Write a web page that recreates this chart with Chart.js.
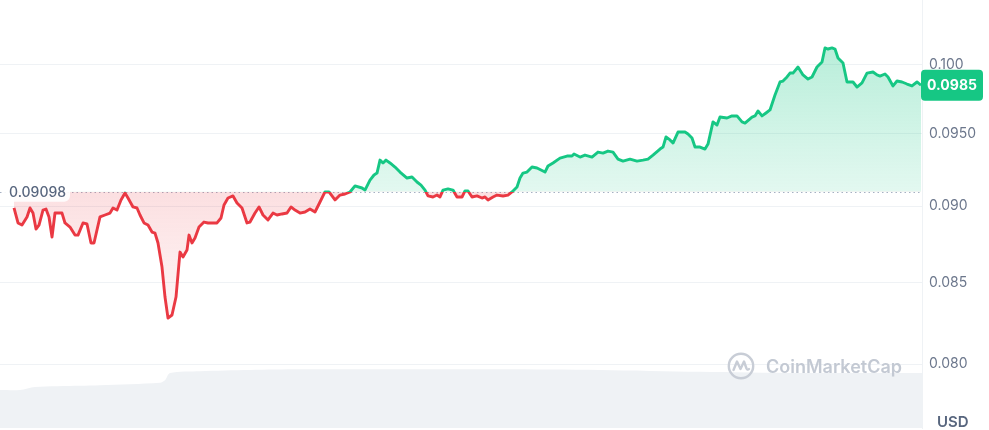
<!DOCTYPE html>
<html>
<head>
<meta charset="utf-8">
<script src="https://cdn.jsdelivr.net/npm/chart.js@4.4.1/dist/chart.umd.min.js"></script>
<style>
html, body { margin: 0; padding: 0; background: #fff; }
#wrap { position: relative; width: 989px; height: 430px; }
#usd { position: absolute; left: 937px; top: 412px; font: 600 15px Inter, sans-serif; color: #58667e; }
#mark { position: absolute; left: 727px; top: 352px; display: flex; align-items: center; gap: 11px;
        font: 600 18px Inter, sans-serif; color: #c3c9d3; }
</style>
</head>
<body>
<div id="wrap">
  <canvas id="priceChart"></canvas>
  <div id="mark">
    <svg width="28" height="28" viewBox="0 0 28 28">
      <circle cx="14" cy="14" r="12.2" fill="none" stroke="#c8cdd6" stroke-width="2.4"/>
      <path d="M6.5 18 L10 9.5 L13.5 17 L17 9.5 L19.5 16.5 Q20.5 18.5 22 17" fill="none" stroke="#c8cdd6" stroke-width="2.4" stroke-linejoin="round" stroke-linecap="round"/>
    </svg>
    <span>CoinMarketCap</span>
  </div>
  <div id="usd">USD</div>
</div>
<script>
// price series, x = time step across the 24h window
const times = [14, 18, 22, 27, 30, 33, 36, 39, 43, 46, 49, 52, 55, 62, 65, 70, 75, 78, 83, 87, 91, 94,
  100, 105, 110, 113, 117, 121, 125, 128, 133, 137, 140, 144, 148, 152, 155, 158, 162, 165, 168, 172,
  176, 179, 180, 183, 187, 189, 192, 195, 199, 204, 208, 217, 221, 224, 228, 233, 237, 242, 247, 250,
  255, 259, 263, 268, 273, 277, 282, 287, 291, 295, 300, 305, 310, 315, 320, 325, 329, 335, 340, 345,
  350, 355, 362, 365, 370, 374, 377, 380, 383, 386, 390, 395, 400, 407, 412, 417, 421, 425, 428, 433,
  437, 440, 443, 448, 453, 457, 462, 465, 468, 472, 477, 482, 485, 488, 493, 497, 503, 508, 512, 517,
  520, 523, 527, 532, 537, 545, 548, 553, 560, 567, 572, 574, 580, 585, 592, 598, 603, 608, 613, 618,
  623, 630, 637, 643, 648, 653, 660, 663, 666, 670, 673, 678, 685, 688, 692, 695, 700, 705, 708, 713,
  717, 720, 727, 732, 737, 742, 745, 752, 755, 758, 762, 766, 770, 775, 780, 783, 787, 790, 793, 798,
  803, 808, 812, 817, 822, 825, 828, 832, 835, 838, 843, 847, 853, 857, 862, 867, 873, 877, 880, 885,
  888, 893, 897, 902, 907, 912, 917, 921];
const prices = [0.08988, 0.08888, 0.08874, 0.08928, 0.08988, 0.08954, 0.08848, 0.08874, 0.08974, 0.08981, 0.08928, 0.08795, 0.08954, 0.08954, 0.08888, 0.08861, 0.08808, 0.08808, 0.08888, 0.08881, 0.08756, 0.08756,
  0.08928, 0.08941, 0.08954, 0.08988, 0.08974, 0.09042, 0.09089, 0.09055, 0.08995, 0.08988, 0.08941, 0.08888, 0.08874, 0.08828, 0.08821, 0.08756, 0.08600, 0.08410, 0.08279, 0.08298,
  0.08410, 0.08626, 0.08697, 0.08665, 0.08710, 0.08808, 0.08756, 0.08789, 0.08861, 0.08894, 0.08888, 0.08888, 0.08921, 0.09008, 0.09055, 0.09069, 0.09021, 0.08988, 0.08888, 0.08894,
  0.08954, 0.08995, 0.08941, 0.08908, 0.08954, 0.08941, 0.08948, 0.08954, 0.08995, 0.08974, 0.08954, 0.08961, 0.08981, 0.08961, 0.09028, 0.09096, 0.09096, 0.09042, 0.09075, 0.09082,
  0.09096, 0.09137, 0.09123, 0.09109, 0.09177, 0.09212, 0.09225, 0.09315, 0.09295, 0.09315, 0.09295, 0.09267, 0.09232, 0.09191, 0.09198, 0.09164, 0.09143, 0.09109, 0.09069, 0.09062,
  0.09075, 0.09062, 0.09109, 0.09117, 0.09109, 0.09062, 0.09062, 0.09103, 0.09103, 0.09062, 0.09069, 0.09055, 0.09062, 0.09042, 0.09062, 0.09075, 0.09069, 0.09075, 0.09096, 0.09130,
  0.09191, 0.09225, 0.09232, 0.09267, 0.09260, 0.09232, 0.09274, 0.09295, 0.09329, 0.09343, 0.09343, 0.09357, 0.09336, 0.09350, 0.09336, 0.09371, 0.09364, 0.09378, 0.09371, 0.09322,
  0.09308, 0.09322, 0.09308, 0.09315, 0.09322, 0.09350, 0.09392, 0.09406, 0.09477, 0.09456, 0.09434, 0.09512, 0.09512, 0.09498, 0.09470, 0.09406, 0.09406, 0.09392, 0.09427, 0.09584,
  0.09562, 0.09619, 0.09612, 0.09627, 0.09627, 0.09584, 0.09576, 0.09619, 0.09627, 0.09663, 0.09627, 0.09648, 0.09670, 0.09779, 0.09874, 0.09881, 0.09911, 0.09940, 0.09940, 0.09985,
  0.09926, 0.09896, 0.09911, 0.09985, 0.10022, 0.10128, 0.10120, 0.10128, 0.10120, 0.10052, 0.10015, 0.09874, 0.09874, 0.09837, 0.09867, 0.09940, 0.09948, 0.09926, 0.09918, 0.09933,
  0.09911, 0.09845, 0.09881, 0.09874, 0.09859, 0.09845, 0.09874, 0.0985];

// volume (background area), same time steps
const volTimes = [0, 20, 35, 80, 100, 160, 165, 170, 200, 250, 300, 400, 500, 600, 700, 800, 922];
const volumes = [62, 62, 67, 69, 70, 74, 78, 90, 93, 95, 96, 96, 96, 95, 92, 90, 90];

const tickValues = [0.08, 0.085, 0.09, 0.095, 0.1];
const tickLabels = ['0.080', '0.085', '0.090', '0.0950', '0.100'];
const openPrice = 0.09098;
const openLabel = '0.09098';
const lastPrice = 0.0985;
const lastLabel = '0.0985';

const GREEN = '#16c784';
const RED = '#ea3943';

Chart.defaults.font.family = 'Inter';

function splitStroke(ctx) {
  const chart = ctx.chart, a = chart.chartArea;
  if (!a || !chart.scales.y) return GREEN;
  const yb = chart.scales.y.getPixelForValue(openPrice);
  let f = (yb - a.top) / (a.bottom - a.top);
  f = Math.min(Math.max(f, 0), 1);
  const g = chart.ctx.createLinearGradient(0, a.top, 0, a.bottom);
  g.addColorStop(0, GREEN);
  g.addColorStop(f, GREEN);
  g.addColorStop(f, RED);
  g.addColorStop(1, RED);
  return g;
}

function splitFill(ctx) {
  const chart = ctx.chart, a = chart.chartArea;
  if (!a || !chart.scales.y) {
    return { target: { value: openPrice }, above: 'rgba(22,199,132,0.2)', below: 'rgba(234,57,67,0.1)' };
  }
  const yb = chart.scales.y.getPixelForValue(openPrice);
  const up = chart.ctx.createLinearGradient(0, a.top, 0, yb);
  up.addColorStop(0, 'rgba(22,199,132,0.36)');
  up.addColorStop(1, 'rgba(22,199,132,0.12)');
  const down = chart.ctx.createLinearGradient(0, yb, 0, a.bottom);
  down.addColorStop(0, 'rgba(234,57,67,0.16)');
  down.addColorStop(0.5, 'rgba(234,57,67,0.05)');
  down.addColorStop(1, 'rgba(234,57,67,0.0)');
  return { target: { value: openPrice }, above: up, below: down };
}

function roundRect(ctx, x, y, w, h, r) {
  ctx.beginPath();
  ctx.moveTo(x + r, y);
  ctx.arcTo(x + w, y, x + w, y + h, r);
  ctx.arcTo(x + w, y + h, x, y + h, r);
  ctx.arcTo(x, y + h, x, y, r);
  ctx.arcTo(x, y, x + w, y, r);
  ctx.closePath();
}

const overlay = {
  id: 'overlay',
  beforeDatasetsDraw(chart) {
    const { ctx, chartArea: a, scales: { y } } = chart;
    const yb = Math.round(y.getPixelForValue(openPrice)) + 0.5;
    ctx.save();
    ctx.strokeStyle = '#a6b0c3';
    ctx.lineWidth = 1;
    ctx.setLineDash([1.5, 3]);
    ctx.beginPath();
    ctx.moveTo(a.left, yb);
    ctx.lineTo(a.right, yb);
    ctx.stroke();
    ctx.restore();
  },
  afterDatasetsDraw(chart) {
    const { ctx, chartArea: a, scales: { y } } = chart;
    const yb = y.getPixelForValue(openPrice);
    ctx.save();
    ctx.fillStyle = 'rgba(255,255,255,0.92)';
    roundRect(ctx, a.left + 4, yb - 10, 66, 20, 6);
    ctx.fill();
    ctx.fillStyle = '#58667e';
    ctx.font = '500 14px Inter';
    ctx.textBaseline = 'middle';
    ctx.fillText(openLabel, a.left + 9, yb + 1);
    ctx.restore();
  },
  afterDraw(chart) {
    const { ctx, chartArea: a, scales: { y } } = chart;
    const yp = y.getPixelForValue(lastPrice);
    ctx.save();
    ctx.fillStyle = GREEN;
    roundRect(ctx, a.right - 1, yp - 15.5, 62, 31, 4);
    ctx.fill();
    ctx.fillStyle = '#fff';
    ctx.font = '700 14px Inter';
    ctx.textAlign = 'center';
    ctx.textBaseline = 'middle';
    ctx.fillText(lastLabel, a.right + 30, yp + 1);
    ctx.restore();
  }
};

new Chart(document.getElementById('priceChart'), {
  type: 'line',
  data: {
    datasets: [{
      label: 'Price',
      data: times.map((t, i) => ({ x: t, y: prices[i] })),
      yAxisID: 'y',
      borderColor: splitStroke,
      borderWidth: 2.9,
      borderJoinStyle: 'round',
      pointRadius: 0,
      tension: 0,
      fill: splitFill
    }, {
      label: 'Volume',
      data: volTimes.map((t, i) => ({ x: t, y: volumes[i] })),
      yAxisID: 'yv',
      borderWidth: 0,
      borderColor: 'rgba(0,0,0,0)',
      backgroundColor: '#eff2f5',
      pointRadius: 0,
      tension: 0.3,
      fill: 'origin'
    }]
  },
  options: {
    responsive: true,
    maintainAspectRatio: false,
    animation: false,
    layout: { padding: { top: 0, bottom: 2, left: 0, right: 0 } },
    plugins: { legend: { display: false }, tooltip: { enabled: false } },
    events: [],
    scales: {
      x: { type: 'linear', min: 0, max: 922, display: false },
      y: {
        type: 'logarithmic',
        position: 'right',
        min: 0.07627,
        max: 0.10497,
        afterBuildTicks: (scale) => { scale.ticks = tickValues.map(v => ({ value: v })); },
        afterFit: (scale) => { scale.width = 67; scale.paddingTop = 0; scale.paddingBottom = 0; },
        grid: { color: '#eff2f5', drawTicks: false },
        border: { display: true, color: '#eff2f5' },
        ticks: {
          autoSkip: false,
          padding: 7,
          color: '#6c778c',
          font: { size: 14 },
          callback: (v) => { const i = tickValues.indexOf(v); return i >= 0 ? tickLabels[i] : ''; }
        }
      },
      yv: { type: 'linear', min: 0, max: 700, display: false }
    }
  },
  plugins: [overlay]
});
</script>
</body>
</html>
